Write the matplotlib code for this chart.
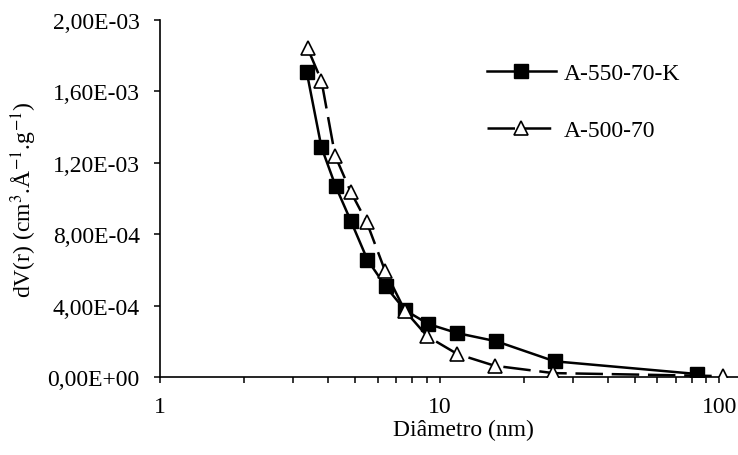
import numpy as np
import matplotlib.pyplot as plt
from matplotlib.ticker import FuncFormatter, LogLocator, NullFormatter

plt.rcParams['font.family'] = ['Liberation Serif', 'DejaVu Serif']
plt.rcParams['mathtext.fontset'] = 'stix'
plt.rcParams['font.size'] = 17

# datos
diam_k = [3.35, 3.78, 4.25, 4.81, 5.52, 6.41, 7.52, 9.11, 11.57, 15.98, 25.8, 83.3]
dv_k = [1.707e-3, 1.287e-3, 1.068e-3, 0.876e-3, 0.657e-3, 0.508e-3, 0.375e-3,
        0.297e-3, 0.246e-3, 0.200e-3, 0.088e-3, 0.017e-3]

diam_a = [3.37, 3.78, 4.23, 4.81, 5.49, 6.38, 7.52, 9.04, 11.57, 15.75, 25.5, 103]
dv_a = [1.843e-3, 1.660e-3, 1.240e-3, 1.038e-3, 0.867e-3, 0.596e-3, 0.371e-3,
        0.228e-3, 0.129e-3, 0.063e-3, 0.022e-3, 0.005e-3]

fig = plt.figure(figsize=(7.38, 4.56), dpi=100)
# el area del grafico sigue mas alla del borde derecho (imagen recortada)
ax = fig.add_axes([0.2168, 0.171, 0.821, 0.783])

ax.plot(diam_k, dv_k, color="black", lw=1.8, marker="s", markersize=9.5,
        label="A-550-70-K", zorder=3)
ax.plot(diam_a, dv_a, color="black", lw=1.8, dashes=(11, 3.5), marker="^",
        markersize=10, markerfacecolor="white", markeredgewidth=1.2,
        label="A-500-70", zorder=4)

ax.set_xscale("log")
ax.set_xlim(1, 147)
ax.set_ylim(0, 2e-3)
ax.set_yticks(np.arange(0, 2.01e-3, 4e-4))
ax.yaxis.set_major_formatter(FuncFormatter(lambda v, p: f"{v:.2E}".replace(".", ",")))
ax.xaxis.set_major_locator(LogLocator(base=10))
ax.xaxis.set_minor_locator(LogLocator(base=10, subs=np.arange(2, 10)))
ax.xaxis.set_minor_formatter(NullFormatter())
ax.xaxis.set_major_formatter(FuncFormatter(lambda v, p: f"{v:g}"))

ax.spines["top"].set_visible(False)
ax.spines["right"].set_visible(False)
ax.spines["left"].set_linewidth(1.2)
ax.spines["bottom"].set_linewidth(1.2)
ax.tick_params(which="both", direction="out", length=4.5, width=1.1)
ax.tick_params(axis="x", which="major", pad=9.5)
ax.tick_params(axis="y", pad=10)

ax.set_xlabel("Diâmetro (nm)", labelpad=1)
ax.set_ylabel(r"dV(r) (cm$^{3}$.Å$^{-1}$.g$^{-1}$)", labelpad=6)

ax.legend(loc="upper left", bbox_to_anchor=(0.505, 0.941), frameon=False,
          handlelength=2.9, labelspacing=1.5, handletextpad=0.35)

fig.savefig("out.png", dpi=100)
